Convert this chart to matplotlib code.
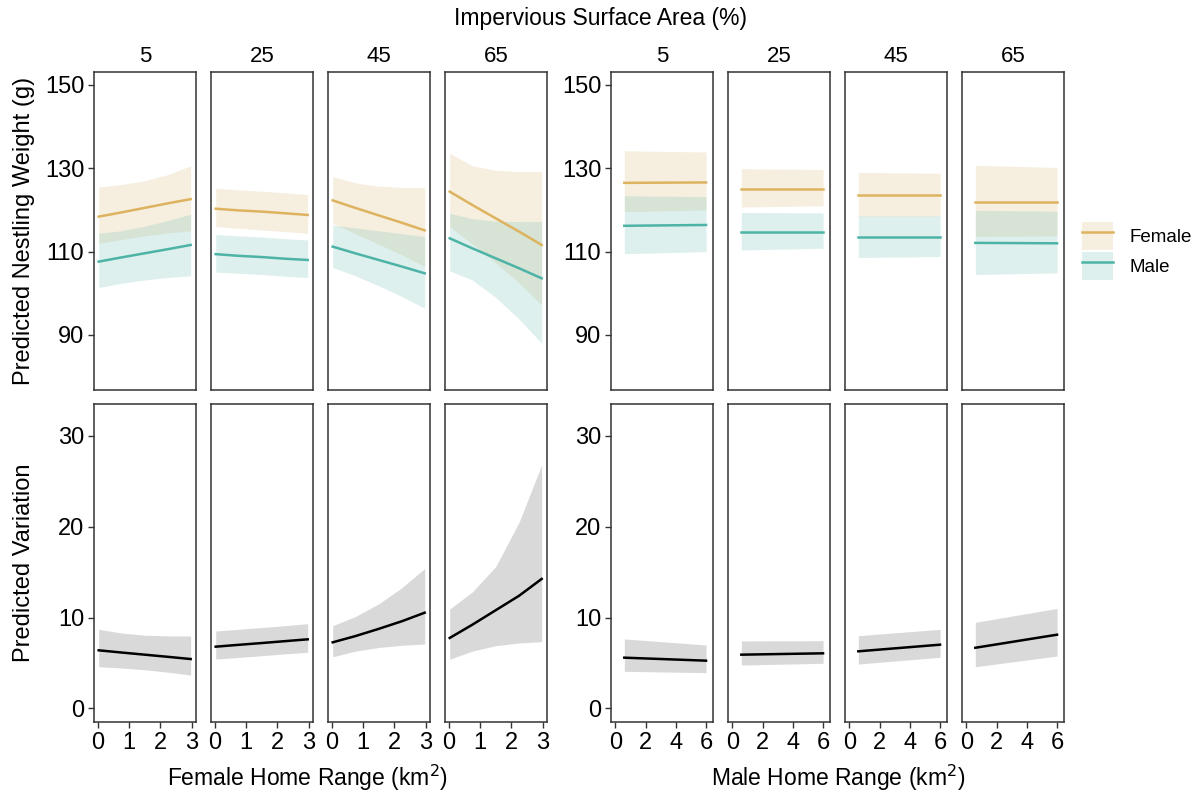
import matplotlib
matplotlib.use("Agg")

import matplotlib.pyplot as plt
from matplotlib.patches import Patch
from matplotlib.lines import Line2D

plt.rcParams["font.family"] = ["Liberation Sans", "DejaVu Sans"]

# impervious surface facets
isa_levels = ["5", "25", "45", "65"]

# female home range (km2) grid and predictions
fem_x = [0.03, 0.75, 1.5, 2.25, 2.97]
fem_wt_f = [[118.4, 119.4, 120.5, 121.6, 122.6],
            [120.3, 119.9, 119.6, 119.2, 118.8],
            [122.3, 120.5, 118.7, 116.9, 115.1],
            [124.4, 121.2, 118.0, 114.8, 111.6]]
fem_wt_f_hi = [[125.5, 126.1, 127.0, 128.5, 130.6],
               [125.2, 124.8, 124.5, 124.1, 123.7],
               [128.0, 126.5, 125.7, 125.4, 125.4],
               [133.6, 130.6, 129.5, 129.2, 129.2]]
fem_wt_f_lo = [[112.0, 112.9, 113.8, 114.5, 115.0],
               [116.0, 115.6, 115.2, 114.8, 114.4],
               [116.8, 114.3, 111.8, 109.2, 106.4],
               [116.0, 111.8, 107.3, 102.5, 97.2]]
fem_wt_m = [[107.6, 108.6, 109.6, 110.6, 111.6],
            [109.4, 109.0, 108.7, 108.3, 108.0],
            [111.2, 109.6, 108.0, 106.4, 104.8],
            [113.2, 110.8, 108.4, 106.0, 103.6]]
fem_wt_m_hi = [[114.4, 115.0, 116.1, 117.5, 119.0],
               [114.1, 113.8, 113.5, 113.1, 112.8],
               [116.4, 115.7, 115.0, 114.3, 113.6],
               [119.2, 117.9, 117.3, 117.2, 117.2]]
fem_wt_m_lo = [[101.4, 102.4, 103.2, 103.8, 104.2],
               [105.1, 104.8, 104.5, 104.1, 103.8],
               [106.2, 104.2, 101.8, 99.2, 96.4],
               [105.4, 103.2, 99.0, 93.8, 88.0]]
fem_var = [[6.39, 6.15, 5.91, 5.67, 5.43],
           [6.79, 6.99, 7.19, 7.40, 7.60],
           [7.27, 7.95, 8.75, 9.6, 10.53],
           [7.75, 9.2, 10.8, 12.4, 14.25]]
fem_var_hi = [[8.70, 8.3, 8.05, 7.98, 7.96],
              [8.51, 8.70, 8.90, 9.10, 9.32],
              [9.10, 10.1, 11.5, 13.3, 15.4],
              [10.94, 12.8, 15.6, 20.5, 26.8]]
fem_var_lo = [[4.58, 4.45, 4.25, 3.98, 3.67],
              [5.43, 5.60, 5.80, 6.00, 6.17],
              [5.68, 6.3, 6.7, 6.95, 7.08],
              [5.4, 6.3, 6.9, 7.2, 7.34]]

# male home range (km2) grid and predictions
male_x = [0.6, 6.0]
male_wt_f = [[126.5, 126.6], [125.0, 125.0], [123.5, 123.5], [122.0, 122.0]]
male_wt_f_hi = [[134.2, 133.9], [129.9, 129.7], [129.0, 128.8], [130.7, 130.2]]
male_wt_f_lo = [[119.6, 120.0], [120.7, 121.0], [118.5, 118.5], [113.6, 113.8]]
male_wt_m = [[116.2, 116.4], [114.8, 114.8], [113.4, 113.4], [112.1, 112.0]]
male_wt_m_hi = [[123.4, 123.2], [119.4, 119.3], [118.6, 118.6], [119.9, 119.7]]
male_wt_m_lo = [[109.5, 110.0], [110.4, 110.8], [108.6, 108.8], [104.5, 104.9]]
male_var = [[5.58, 5.25], [5.91, 6.06], [6.28, 7.01], [6.67, 8.11]]
male_var_hi = [[7.64, 6.98], [7.42, 7.45], [8.0, 8.7], [9.47, 11.0]]
male_var_lo = [[4.08, 3.93], [4.77, 4.96], [4.88, 5.62], [4.58, 5.76]]

FEM_COL = "#DDB35F"
MALE_COL = "#4DB3A6"
FEM_FILL = "#D2AF64"
MALE_FILL = "#5AB4AA"

W, H = 1198, 794
fig = plt.figure(figsize=(W / 100, H / 100), dpi=100)

left_px = [94, 211, 328, 445, 611, 728, 845, 962]
pw = 102
top_row = (72, 390)
bot_row = (404, 722)


def make_ax(x0, row):
    y0, y1 = row
    return fig.add_axes([x0 / W, 1 - y1 / H, pw / W, (y1 - y0) / H])


def style(ax):
    for s in ax.spines.values():
        s.set_color("#333333")
        s.set_linewidth(1.1)
    ax.tick_params(direction="out", length=4, width=1, color="#333333",
                   labelsize=17, pad=3)


groups = [
    (fem_x, fem_wt_f, fem_wt_f_hi, fem_wt_f_lo, fem_wt_m, fem_wt_m_hi, fem_wt_m_lo,
     fem_var, fem_var_hi, fem_var_lo, (-0.12, 3.14), [0, 1, 2, 3]),
    (male_x, male_wt_f, male_wt_f_hi, male_wt_f_lo, male_wt_m, male_wt_m_hi, male_wt_m_lo,
     male_var, male_var_hi, male_var_lo, (-0.28, 6.46), [0, 2, 4, 6]),
]

for g, (xs, wf, wfh, wfl, wm, wmh, wml, v, vh, vl, xlim, xticks) in enumerate(groups):
    for k in range(4):
        x0 = left_px[g * 4 + k]

        # top row: nestling weight
        ax = make_ax(x0, top_row)
        ax.fill_between(xs, wfl[k], wfh[k], color=FEM_FILL, alpha=0.2, lw=0)
        ax.fill_between(xs, wml[k], wmh[k], color=MALE_FILL, alpha=0.2, lw=0)
        ax.plot(xs, wf[k], color=FEM_COL, lw=1.8)
        ax.plot(xs, wm[k], color=MALE_COL, lw=1.8)
        ax.set_xlim(*xlim)
        ax.set_ylim(76.8, 153.1)
        ax.set_xticks([])
        ax.set_yticks([90, 110, 130, 150])
        style(ax)
        if k > 0:
            ax.tick_params(axis="y", left=False, labelleft=False)
        ax.set_title(isa_levels[k], fontsize=16, pad=7)

        # bottom row: variation
        ax = make_ax(x0, bot_row)
        ax.fill_between(xs, vl[k], vh[k], color="#D9D9D9", lw=0)
        ax.plot(xs, v[k], color="black", lw=1.8)
        ax.set_xlim(*xlim)
        ax.set_ylim(-1.5, 33.5)
        ax.set_xticks(xticks)
        ax.set_yticks([0, 10, 20, 30])
        style(ax)
        if k > 0:
            ax.tick_params(axis="y", left=False, labelleft=False)

fig.text(601 / W, 1 - 18 / H, "Impervious Surface Area (%)", ha="center", va="center", fontsize=16.5)
fig.text(24 / W, 1 - 231 / H, "Predicted Nestling Weight (g)", rotation=90,
         ha="center", va="center", fontsize=17)
fig.text(24 / W, 1 - 563 / H, "Predicted Variation", rotation=90,
         ha="center", va="center", fontsize=17)
fig.text(308 / W, 1 - 778 / H, "Female Home Range (km$^2$)", ha="center", va="center", fontsize=16.5)
fig.text(838 / W, 1 - 778 / H, "Male Home Range (km$^2$)", ha="center", va="center", fontsize=16.5)

handles = [
    (Patch(facecolor=FEM_FILL, alpha=0.2, lw=0), Line2D([], [], color=FEM_COL, lw=1.8)),
    (Patch(facecolor=MALE_FILL, alpha=0.2, lw=0), Line2D([], [], color=MALE_COL, lw=1.8)),
]
fig.legend(handles, ["Female", "Male"], loc="center left",
           bbox_to_anchor=(1073 / W, 1 - 251 / H), frameon=False, fontsize=13.5,
           handlelength=1.65, handleheight=1.85, handletextpad=0.85, labelspacing=0.15,
           borderpad=0)

fig.savefig("out.png", dpi=100, facecolor="white")
